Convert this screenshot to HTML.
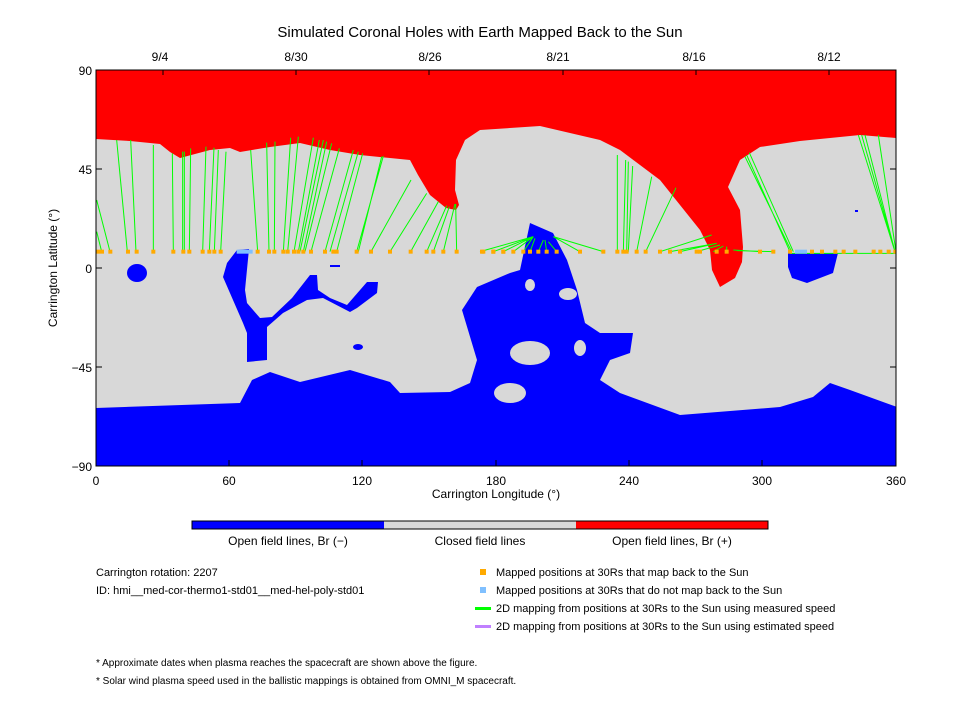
<!DOCTYPE html>
<html><head><style>
body{margin:0;background:#fff;}
svg text{font-family:"Liberation Sans",sans-serif;fill:#000;}
</style></head><body>
<svg width="960" height="720" viewBox="0 0 960 720" xmlns="http://www.w3.org/2000/svg">
<rect width="960" height="720" fill="#fff"/>
<defs><clipPath id="pc"><rect x="96" y="70" width="800" height="396"/></clipPath></defs>
<g clip-path="url(#pc)">
<rect x="96" y="70" width="800" height="396" fill="#d8d8d8"/>
<path fill="#ff0000" d="M96,70 H896 V138 L860,135 L800,141 L760,147 L740,160 L728,187 L740,210 L743,247 L742,262 L735,278 L720,287 L712,270 L710,250 L700,230 L660,180 L620,150 L600,140 L540,126 L480,130 L465,140 L456,160 L455,190 L459,205 L456,210 L446,208 L430,195 L418,175 L410,160 L390,158 L360,155 L330,150 L300,143 L270,147 L240,152 L230,148 L210,150 L180,158 L170,152 L160,144 L130,141 L96,139 Z"/>
<path fill="#0000ff" d="M96,408 L240,403 L252,380 L270,372 L300,382 L350,370 L390,382 L400,393 L450,392 L470,383 L477,360 L462,310 L477,287 L510,273 L520,270 L530,223 L553,233 L567,260 L577,290 L585,323 L600,333 L633,333 L630,353 L610,360 L600,380 L620,393 L680,415 L780,407 L813,397 L830,383 L850,390 L897,407 V466 H96 Z"/>
<g fill="#d8d8d8">
<ellipse cx="530" cy="285" rx="5" ry="6"/>
<ellipse cx="568" cy="294" rx="9" ry="6"/>
<ellipse cx="530" cy="353" rx="20" ry="12"/>
<ellipse cx="580" cy="348" rx="6" ry="8"/>
<ellipse cx="510" cy="393" rx="16" ry="10"/>
</g>
<g fill="#0000ff">
<path d="M237,250 L249,249 L245,290 L247,303 L260,318 L272,317 L292,298 L310,275 L317,275 L318,290 L330,298 L347,305 L367,282 L378,282 L377,293 L357,308 L350,312 L323,298 L307,300 L283,313 L267,327 L267,360 L247,362 L247,333 L243,323 L223,277 L227,263 Z"/>
<ellipse cx="137" cy="273" rx="10" ry="9"/>
<ellipse cx="358" cy="347" rx="5" ry="3"/>
<path d="M788,253 L838,253 L833,273 L807,283 L792,278 L788,267 Z"/>
<rect x="330" y="265" width="10" height="2"/>
<rect x="855" y="210" width="3" height="2"/>
</g>
<g transform="translate(90,60) scale(0.33333)" stroke="#00ff00" stroke-width="3" fill="none">
<path d="M20,420L60,575 M20,515L35,575 M80,240L112,575 M122,240L138,575 M190,255L190,575 M247,280L250,575 M278,275L278,575 M283,275L283,575 M302,265L298,575 M348,260L338,575 M372,263L358,575 M385,270L373,575 M408,275L392,575 M482,270L503,575 M530,248L537,575 M555,245L553,575 M602,233L580,575 M625,230L593,575 M670,233L612,575 M688,240L625,575 M700,240L630,575 M710,245L640,575 M725,250L645,575 M748,265L663,575 M790,270L705,575 M805,275L720,575 M818,280L740,575 M880,288L800,575 M875,290L805,575 M963,360L843,575 M1010,400L900,575 M1045,425L962,575 M1070,437L1010,575 M1078,440L1030,575 M1095,432L1060,575 M1097,432L1100,575"/>
</g>
<g transform="translate(480,60) scale(0.33333)" stroke="#00ff00" stroke-width="3" fill="none">
<path d="M160,530L0,575 M160,530L40,575 M160,530L70,575 M160,530L100,575 M160,530L130,575 M165,535L150,575 M190,540L175,575 M195,540L200,575 M205,545L230,575 M220,530L300,575 M220,530L370,575 M412,285L412,575 M437,300L430,575 M445,305L440,575 M458,318L445,575 M515,350L470,575 M588,383L497,575 M695,525L540,575 M710,550L570,575 M710,550L600,575 M720,555L650,575 M730,558L700,575 M740,560L740,575 M760,570L840,575 M770,572L880,575 M795,290L935,575 M808,278L940,575 M800,285L930,575 M1135,225L1245,575 M1145,225L1245,575 M1155,225L1245,575 M1195,225L1248,575 M930,580L1250,580"/>
</g>
<g fill="#ffaa00" transform="translate(90,60) scale(0.33333)">
<rect x="18" y="569" width="12" height="12"/><rect x="30" y="569" width="12" height="12"/><rect x="55" y="569" width="12" height="12"/><rect x="108" y="569" width="12" height="12"/><rect x="134" y="569" width="12" height="12"/><rect x="184" y="569" width="12" height="12"/><rect x="244" y="569" width="12" height="12"/><rect x="274" y="569" width="12" height="12"/><rect x="292" y="569" width="12" height="12"/><rect x="332" y="569" width="12" height="12"/><rect x="352" y="569" width="12" height="12"/><rect x="367" y="569" width="12" height="12"/><rect x="386" y="569" width="12" height="12"/><rect x="497" y="569" width="12" height="12"/><rect x="531" y="569" width="12" height="12"/><rect x="547" y="569" width="12" height="12"/><rect x="574" y="569" width="12" height="12"/><rect x="587" y="569" width="12" height="12"/><rect x="606" y="569" width="12" height="12"/><rect x="619" y="569" width="12" height="12"/><rect x="634" y="569" width="12" height="12"/><rect x="657" y="569" width="12" height="12"/><rect x="699" y="569" width="12" height="12"/><rect x="724" y="569" width="12" height="12"/><rect x="734" y="569" width="12" height="12"/><rect x="794" y="569" width="12" height="12"/><rect x="837" y="569" width="12" height="12"/><rect x="894" y="569" width="12" height="12"/><rect x="956" y="569" width="12" height="12"/><rect x="1004" y="569" width="12" height="12"/><rect x="1024" y="569" width="12" height="12"/><rect x="1054" y="569" width="12" height="12"/><rect x="1094" y="569" width="12" height="12"/><rect x="1174" y="569" width="12" height="12"/><rect x="1204" y="569" width="12" height="12"/><rect x="1234" y="569" width="12" height="12"/>
<rect x="440" y="569" width="48" height="12" fill="#80c0ff"/>
</g>
<g fill="#ffaa00" transform="translate(480,60) scale(0.33333)">
<rect x="0" y="569" width="12" height="12"/><rect x="34" y="569" width="12" height="12"/><rect x="64" y="569" width="12" height="12"/><rect x="94" y="569" width="12" height="12"/><rect x="124" y="569" width="12" height="12"/><rect x="144" y="569" width="12" height="12"/><rect x="169" y="569" width="12" height="12"/><rect x="194" y="569" width="12" height="12"/><rect x="224" y="569" width="12" height="12"/><rect x="294" y="569" width="12" height="12"/><rect x="364" y="569" width="12" height="12"/><rect x="406" y="569" width="12" height="12"/><rect x="424" y="569" width="12" height="12"/><rect x="434" y="569" width="12" height="12"/><rect x="464" y="569" width="12" height="12"/><rect x="491" y="569" width="12" height="12"/><rect x="534" y="569" width="12" height="12"/><rect x="564" y="569" width="12" height="12"/><rect x="594" y="569" width="12" height="12"/><rect x="644" y="569" width="12" height="12"/><rect x="654" y="569" width="12" height="12"/><rect x="704" y="569" width="12" height="12"/><rect x="734" y="569" width="12" height="12"/><rect x="834" y="569" width="12" height="12"/><rect x="874" y="569" width="12" height="12"/><rect x="924" y="569" width="12" height="12"/><rect x="990" y="569" width="12" height="12"/><rect x="1020" y="569" width="12" height="12"/><rect x="1060" y="569" width="12" height="12"/><rect x="1085" y="569" width="12" height="12"/><rect x="1120" y="569" width="12" height="12"/><rect x="1175" y="569" width="12" height="12"/><rect x="1195" y="569" width="12" height="12"/><rect x="1220" y="569" width="12" height="12"/><rect x="1240" y="569" width="12" height="12"/>
<rect x="945" y="569" width="36" height="12" fill="#80c0ff"/>
</g>
</g>
<rect x="96" y="70" width="800" height="396" fill="none" stroke="#000" stroke-width="1"/>
<g stroke="#000" stroke-width="1">
<path d="M229,466v-6 M362,466v-6 M496,466v-6 M629,466v-6 M762,466v-6"/>
<path d="M96,169h6 M96,268h6 M96,367h6 M896,169h-6 M896,268h-6 M896,367h-6"/>
<path d="M163,70v5 M296,70v5 M429,70v5 M563,70v5 M696,70v5 M829,70v5"/>
</g>
<text x="480" y="37" font-size="15" text-anchor="middle">Simulated Coronal Holes with Earth Mapped Back to the Sun</text>
<g font-size="12" text-anchor="middle">
<text x="160" y="61">9/4</text><text x="296" y="61">8/30</text><text x="430" y="61">8/26</text><text x="558" y="61">8/21</text><text x="694" y="61">8/16</text><text x="829" y="61">8/12</text>
<text x="96" y="485">0</text><text x="229" y="485">60</text><text x="362" y="485">120</text><text x="496" y="485">180</text><text x="629" y="485">240</text><text x="762" y="485">300</text><text x="896" y="485">360</text>
<text x="496" y="498">Carrington Longitude (°)</text>
</g>
<g font-size="12" text-anchor="end">
<text x="92" y="75">90</text><text x="92" y="174">45</text><text x="92" y="273">0</text><text x="92" y="372">−45</text><text x="92" y="471">−90</text>
</g>
<text x="0" y="0" font-size="12" text-anchor="middle" transform="translate(57,268) rotate(-90)">Carrington Latitude (°)</text>
<rect x="192" y="521" width="192" height="8" fill="#0000ff"/>
<rect x="384" y="521" width="192" height="8" fill="#d8d8d8"/>
<rect x="576" y="521" width="192" height="8" fill="#ff0000"/>
<rect x="192" y="521" width="576" height="8" fill="none" stroke="#000"/>
<g font-size="12" text-anchor="middle">
<text x="288" y="545">Open field lines, Br (−)</text>
<text x="480" y="545">Closed field lines</text>
<text x="672" y="545">Open field lines, Br (+)</text>
</g>
<g font-size="11">
<text x="96" y="576">Carrington rotation: 2207</text>
<text x="96" y="594">ID: hmi__med-cor-thermo1-std01__med-hel-poly-std01</text>
<text x="496" y="576">Mapped positions at 30Rs that map back to the Sun</text>
<text x="496" y="594">Mapped positions at 30Rs that do not map back to the Sun</text>
<text x="496" y="612">2D mapping from positions at 30Rs to the Sun using measured speed</text>
<text x="496" y="630">2D mapping from positions at 30Rs to the Sun using estimated speed</text>
</g>
<g font-size="10">
<text x="96" y="666">* Approximate dates when plasma reaches the spacecraft are shown above the figure.</text>
<text x="96" y="684">* Solar wind plasma speed used in the ballistic mappings is obtained from OMNI_M spacecraft.</text>
</g>
<rect x="480" y="569" width="6" height="6" fill="#ffaa00"/>
<rect x="480" y="587" width="6" height="6" fill="#80c0ff"/>
<rect x="475" y="607" width="16" height="3" fill="#00ff00"/>
<rect x="475" y="625" width="16" height="3" fill="#c080ff"/>
</svg>
</body></html>
